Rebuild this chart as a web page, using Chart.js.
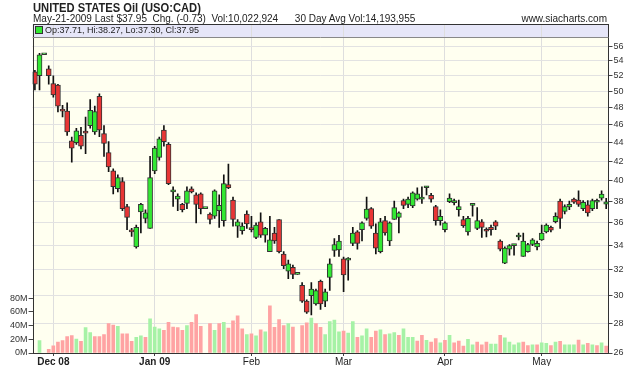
<!DOCTYPE html>
<html lang="en">
<head>
    <meta charset="UTF-8">
    <title>UNITED STATES Oil (USO:CAD)</title>
    <script src="https://cdn.jsdelivr.net/npm/chart.js@4.4.0/dist/chart.umd.min.js"></script>
    <style>
        body { margin: 0; background: #fff; font-family: "Liberation Sans", Arial, sans-serif; color: #222; }
        #wrap { position: relative; width: 640px; height: 366px; overflow: hidden; }
        #title { position: absolute; left: 33px; top: 0px; font-size: 13px; line-height: 15px; font-weight: bold; white-space: nowrap;
                 transform: scaleX(0.86); transform-origin: left top; }
        #info { position: absolute; left: 33px; top: 13px; font-size: 10px; line-height: 11px; white-space: pre; }
        #site { position: absolute; right: 33px; top: 13px; font-size: 10px; line-height: 11px; }
        #ohlc { position: absolute; left: 35px; top: 25px; font-size: 9px; white-space: nowrap; line-height: 11px; }
        #ohlc i { display: inline-block; width: 6px; height: 6px; background: #33e833; border: 1px solid #333;
                  vertical-align: -1px; margin-right: 2px; }
        canvas { position: absolute; left: 0; top: 0; }
    </style>
</head>
<body>
<div id="wrap">
    <canvas id="chart" width="640" height="366"></canvas>
    <div id="title">UNITED STATES Oil (USO:CAD)</div>
    <div id="info">May-21-2009 Last $37.95  Chg. (-0.73)  Vol:10,022,924      30 Day Avg Vol:14,193,955</div>
    <div id="site">www.siacharts.com</div>
    <div id="ohlc"><i></i>Op:37.71, Hi:38.27, Lo:37.30, Cl:37.95</div>
</div>

<script>
// trading days (Nov 27, Jan 19, Feb 16 are flat holiday slots)
const dates = [
    'Nov 25','Nov 26','Nov 27','Nov 28',
    'Dec 1','Dec 2','Dec 3','Dec 4','Dec 5','Dec 8','Dec 9','Dec 10','Dec 11','Dec 12',
    'Dec 15','Dec 16','Dec 17','Dec 18','Dec 19','Dec 22','Dec 23','Dec 24','Dec 26','Dec 29','Dec 30','Dec 31',
    'Jan 2','Jan 5','Jan 6','Jan 7','Jan 8','Jan 9','Jan 12','Jan 13','Jan 14','Jan 15','Jan 16',
    'Jan 19','Jan 20','Jan 21','Jan 22','Jan 23','Jan 26','Jan 27','Jan 28','Jan 29','Jan 30',
    'Feb 2','Feb 3','Feb 4','Feb 5','Feb 6','Feb 9','Feb 10','Feb 11','Feb 12','Feb 13',
    'Feb 16','Feb 17','Feb 18','Feb 19','Feb 20','Feb 23','Feb 24','Feb 25','Feb 26','Feb 27',
    'Mar 2','Mar 3','Mar 4','Mar 5','Mar 6','Mar 9','Mar 10','Mar 11','Mar 12','Mar 13',
    'Mar 16','Mar 17','Mar 18','Mar 19','Mar 20','Mar 23','Mar 24','Mar 25','Mar 26','Mar 27','Mar 30','Mar 31',
    'Apr 1','Apr 2','Apr 3','Apr 6','Apr 7','Apr 8','Apr 9','Apr 13','Apr 14','Apr 15','Apr 16','Apr 17',
    'Apr 20','Apr 21','Apr 22','Apr 23','Apr 24','Apr 27','Apr 28','Apr 29','Apr 30',
    'May 1','May 4','May 5','May 6','May 7','May 8','May 11','May 12','May 13','May 14','May 15',
    'May 18','May 19','May 20','May 21'
];

const opens = [
    52.5,52.0,54.8,52.9, 51.0,50.8,47.7,47.6,44.2,44.0,44.8,45.1,45.9,45.2,
    49.4,45.0,42.9,41.0,39.2,39.9,37.5,35.25,33.9,37.0,36.4,35.5,
    41.0,42.4,45.4,43.8,38.9,38.2,37.7,37.8,39.2,38.6,38.7,
    37.3,36.8,36.6,37.1,36.2,39.6,38.1,35.7,35.3,36.8,
    35.45,34.7,36.1,34.9,33.5,35.1,36.3,33.3,31.9,32.2,
    31.65,30.8,29.6,30.0,29.4,31.1,29.6,31.4,33.6,33.65,
    32.9,32.8,34.2,35.2,35.4,36.4,37.3,35.1,33.5,36.2,
    34.4,36.3,36.5,38.05,37.7,37.55,38.2,38.2,39.3,38.55,37.5,36.2,
    35.4,37.95,37.85,37.2,36.3,35.2,37.6,35.5,36.1,35.3,35.6,36.1,
    34.4,32.55,33.7,34.0,34.75,33.1,33.5,34.1,33.9,
    34.5,35.2,35.6,36.1,38.0,37.05,37.45,38.2,38.1,37.3,37.65,
    37.3,37.9,38.3,37.71
];
const highs = [
    52.7,55.0,54.8,53.3, 52.0,50.9,48.3,48.6,44.6,45.6,45.7,46.9,49.0,48.2,
    49.7,45.9,44.1,41.2,40.6,40.3,37.7,35.5,35.8,37.8,37.2,42.5,
    43.6,44.6,45.9,44.0,39.4,38.7,37.8,39.4,39.4,38.8,38.8,
    37.3,36.9,39.1,38.6,40.6,41.7,38.4,36.3,36.0,37.1,
    36.6,36.0,36.9,35.6,36.6,35.6,36.3,33.5,32.8,32.4,
    31.65,31.0,29.7,31.0,30.5,31.2,30.5,32.9,34.6,34.9,
    33.05,33.0,35.6,35.3,36.1,38.4,37.4,35.9,36.4,36.6,
    36.1,38.0,37.0,38.2,38.4,38.9,39.3,39.4,39.45,38.75,37.6,37.2,
    36.1,38.7,38.2,38.1,36.6,36.6,37.8,37.4,36.3,35.55,35.8,36.2,
    34.5,33.9,34.1,34.1,35.1,35.1,34.2,34.6,34.4,
    35.8,35.9,35.7,36.9,38.2,37.65,38.0,38.3,39.0,38.05,38.05,
    38.2,38.2,39.0,38.27
];
const lows = [
    50.2,50.2,54.8,50.9, 49.3,47.5,46.9,44.8,41.9,43.8,43.3,42.8,45.6,44.9,
    44.65,42.5,40.9,38.7,38.9,37.1,35.4,34.8,33.8,35.1,36.0,35.5,
    40.7,42.1,43.6,39.6,37.5,37.1,37.0,37.3,38.8,36.0,36.8,
    37.3,35.9,36.4,35.6,35.7,39.2,35.7,34.7,35.0,35.5,
    35.2,34.6,34.7,34.3,33.5,34.2,33.4,32.1,31.3,31.3,
    31.65,29.5,28.7,28.6,29.3,29.0,29.2,30.4,33.1,33.1,
    30.3,31.2,34.0,33.7,34.4,36.25,35.5,33.3,33.4,34.9,
    34.0,36.3,35.1,37.3,37.4,37.4,38.1,37.8,38.6,37.9,35.8,35.8,
    35.2,37.85,37.65,36.6,35.6,34.9,36.6,35.4,34.7,34.75,34.9,35.4,
    33.55,32.5,33.2,33.2,34.5,33.1,33.45,34.0,33.65,
    34.45,35.1,35.2,36.0,35.5,36.8,37.2,37.8,37.5,37.1,36.6,
    37.1,37.3,38.1,37.30
];
const closes = [
    50.9,54.8,54.8,52.0, 49.55,48.2,47.6,45.2,43.4,45.3,43.6,45.05,47.7,47.55,
    45.4,43.9,41.4,39.4,40.3,37.3,36.5,35.2,35.6,37.7,36.9,40.3,
    43.4,44.4,44.1,39.7,39.1,38.5,37.2,39.0,38.9,37.7,37.3,
    37.3,36.3,39.0,37.6,39.7,39.3,36.3,36.1,35.7,35.9,
    35.4,35.8,34.9,35.5,34.5,34.4,33.5,32.35,32.5,31.65,
    31.65,29.6,28.8,30.5,30.4,29.4,30.3,32.5,34.1,34.4,
    31.6,32.9,35.1,34.2,36.0,37.25,35.7,33.8,36.1,35.1,
    36.0,37.4,36.9,37.6,38.2,38.8,38.7,38.4,39.35,38.2,36.2,36.6,
    36.0,38.3,38.05,37.5,35.75,36.4,37.65,36.2,35.6,35.25,35.4,35.7,
    33.7,33.8,34.0,34.05,34.9,34.4,34.1,34.5,34.2,
    35.1,35.8,35.35,36.6,36.4,37.5,37.7,37.9,37.7,37.9,36.9,
    38.05,37.95,38.68,37.95
];
// volume in millions (null on holiday slots)
const volumes = [
    null,18,null,5.5, 10.5,16,18,24,25.5,20.5,17,37,30,24,
    24,27,43,41,39,28,28,17,23,25,23,50,
    38,35.5,33,45,38,37,33,40,45,56,39,
    null,43,33,43,45,36.5,47,54.5,35.5,27,
    28,25,34,31,69,37.5,48.7,40,43,38,
    null,40,44,51,43,37.5,27,46,48,31,
    32,29,46,23,25,35.5,23,32,34,27,
    28,30,26,35.5,23,23,17.5,26,18.5,16,21,15,
    18.5,26,15,17.5,10,20,12,16,12,16,13,13,
    26,22,16,12,15,16,11,12,12,
    15,14,11,16,17,12,12,12,19,12,14,
    12,11,15,10
];

const priceTicks = [26,28,30,32,34,36,38,40,42,44,46,48,50,52,54,56];
const volumeTicks = [0,20,40,60,80];
const monthStarts = ['Dec 1','Jan 2','Feb 2','Mar 2','Apr 1','May 1'];
const monthLabels = ['Dec 08','Jan 09','Feb','Mar','Apr','May'];

const upVol = closes.map((c, i) => i === 0 ? false : c >= closes[i - 1]);

const chartBg = {
    id: 'chartBg',
    beforeDraw(chart) {
        const {ctx, chartArea: a} = chart;
        ctx.save();
        ctx.fillStyle = '#fffff0';
        ctx.fillRect(a.left, a.top, a.right - a.left, a.bottom - a.top);
        ctx.fillStyle = '#e6e6f8';
        ctx.fillRect(a.left, a.top, a.right - a.left, 13);
        ctx.restore();
    },
    afterDraw(chart) {
        const {ctx, chartArea: a} = chart;
        ctx.save();
        ctx.strokeStyle = '#333';
        ctx.lineWidth = 1;
        ctx.strokeRect(Math.round(a.left) + 0.5, Math.round(a.top) + 0.5,
            Math.round(a.right - a.left) - 1, Math.round(a.bottom - a.top));
        ctx.strokeStyle = '#888';
        ctx.beginPath();
        ctx.moveTo(a.left, Math.round(a.top) + 13.5);
        ctx.lineTo(a.right, Math.round(a.top) + 13.5);
        ctx.stroke();
        ctx.restore();
    }
};

new Chart(document.getElementById('chart'), {
    type: 'bar',
    data: {
        labels: dates,
        datasets: [
            {
                label: 'Volume',
                yAxisID: 'v',
                data: volumes,
                backgroundColor: upVol.map(u => u ? '#a6f2a6' : '#ffa3a3'),
                barThickness: 3,
                grouped: false,
                order: 3
            },
            {
                label: 'Range',
                yAxisID: 'y',
                data: lows.map((l, i) => [l, highs[i]]),
                backgroundColor: '#111',
                barThickness: 1,
                grouped: false,
                order: 2
            },
            {
                label: 'Body',
                yAxisID: 'y',
                data: opens.map((o, i) => [o, closes[i]]),
                backgroundColor: opens.map((o, i) => closes[i] >= o ? '#33e833' : '#e83535'),
                borderColor: '#333',
                borderWidth: 1,
                borderSkipped: false,
                barThickness: 5,
                minBarLength: 2,
                grouped: false,
                order: 1
            }
        ]
    },
    options: {
        responsive: false,
        animation: false,
        layout: { padding: { top: 24, left: 0, right: 0, bottom: 0 } },
        plugins: { legend: { display: false }, tooltip: { enabled: false } },
        scales: {
            x: {
                type: 'category',
                offset: true,
                afterFit: s => { s.height = 13; },
                grid: { offset: false, color: '#dedede', tickLength: 3, tickColor: '#444' },
                border: { display: false },
                ticks: {
                    autoSkip: false,
                    maxRotation: 0,
                    padding: 0,
                    color: '#222',
                    font: ctx => ({ size: 10, family: 'Liberation Sans',
                        weight: ctx.tick && /\d/.test(ctx.tick.label) ? 'bold' : 'normal' }),
                    callback: (v, i) => {
                        const k = monthStarts.indexOf(dates[i]);
                        return k >= 0 ? monthLabels[k] : null;
                    }
                }
            },
            y: {
                type: 'logarithmic',
                position: 'right',
                min: 26,
                max: 59.18,
                afterFit: s => { s.width = 31.5; },
                afterBuildTicks: s => { s.ticks = priceTicks.map(v => ({ value: v })); },
                grid: { color: '#e2e2e2', tickLength: 4, tickColor: '#444' },
                border: { display: false },
                ticks: {
                    padding: 1,
                    color: '#333',
                    font: { size: 9, family: 'Liberation Sans' },
                    callback: v => String(v)
                }
            },
            v: {
                type: 'linear',
                position: 'left',
                min: 0,
                max: 481,
                afterFit: s => { s.width = 32.6; },
                afterBuildTicks: s => { s.ticks = volumeTicks.map(v => ({ value: v })); },
                grid: { drawOnChartArea: false, tickLength: 4, tickColor: '#444' },
                border: { display: false },
                ticks: {
                    padding: 1,
                    color: '#333',
                    font: { size: 9, family: 'Liberation Sans' },
                    callback: v => v + 'M'
                }
            }
        }
    },
    plugins: [chartBg]
});
</script>
</body>
</html>
